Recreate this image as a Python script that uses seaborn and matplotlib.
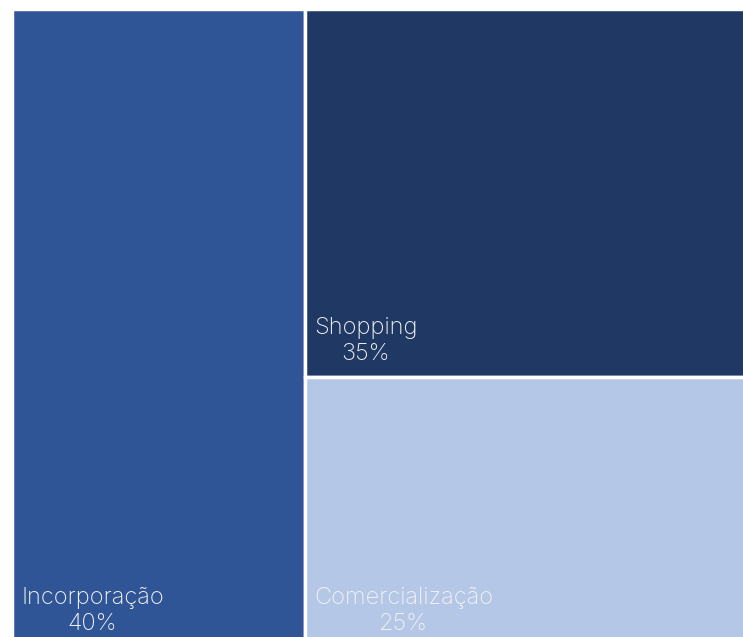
import matplotlib
matplotlib.use("Agg")
import matplotlib.pyplot as plt
import seaborn as sns

# share of each segment (%)
labels = ["Incorporação", "Shopping", "Comercialização"]
values = [40, 35, 25]
colors = ["#2F5597", "#203864", "#B4C7E7"]

sns.set_theme(style="white")
plt.rcParams["font.family"] = ["Inter", "DejaVu Sans"]

fig = plt.figure(figsize=(7.43, 6.37), dpi=100)
# axes runs slightly past the right and bottom edges, like the cropped reference
ax = fig.add_axes([12 / 743, -3 / 637, 733 / 743, 631 / 637])

# simple slice-and-dice layout: first block takes full height, rest split vertically
total = sum(values)
W, H = 100, 100
x0 = values[0] / total * W
rest = sum(values[1:])
rects = [(0, 0, x0, H)]
y = H
for v in values[1:]:
    h = v / rest * H
    y -= h
    rects.append((x0, max(y, 0), W - x0, h))

for (x, yb, w, h), lab, val, col in zip(rects, labels, values, colors):
    ax.bar(x, h, width=w, bottom=yb, align="edge", color=col,
           edgecolor="white", linewidth=2.5)
    off = 5 if yb < 1e-6 else 12
    ax.annotate(f"{lab}\n{val}%", xy=(x, yb), xytext=(9, off),
                textcoords="offset pixels", ha="left", va="bottom",
                multialignment="center", color="#F2F2F2", fontsize=17,
                fontweight="light", linespacing=1.25)

ax.set_xlim(0, W)
ax.set_ylim(0, H)
ax.axis("off")

fig.savefig("out.png", dpi=100)
